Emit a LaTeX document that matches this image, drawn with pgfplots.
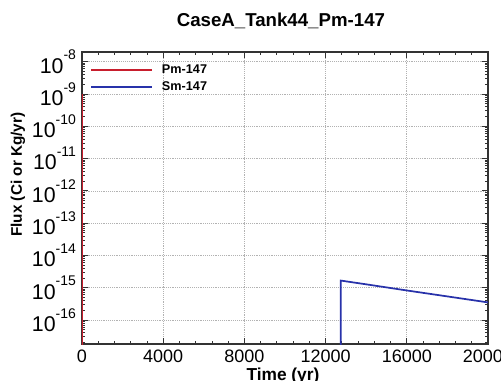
\documentclass[border=0pt]{standalone}
\usepackage{pgfplots}
\pgfplotsset{compat=1.18}
\usepackage{fontspec}
\setmainfont{Liberation Sans}
\definecolor{pmred}{RGB}{200,30,45}
\definecolor{smblue}{RGB}{40,50,170}
\newcommand{\ytl}[1]{10\raisebox{0.62em}{\fontsize{10.5}{11}\selectfont -#1}}
\begin{document}
\begin{tikzpicture}
\useasboundingbox (-61.5pt,-27.75pt) rectangle (314.25pt,258pt);
\begin{axis}[
  scale only axis,
  width=304.5pt, height=219pt,
  ymode=log,
  xmin=0, xmax=20000,
  ymin=1.8e-17, ymax=2e-8,
  scaled x ticks=false,
  xtick={0,4000,8000,12000,16000,20000},
  xticklabels={0,4000,8000,12000,16000,20000},
  minor x tick num=4,
  ytick={1e-16,1e-15,1e-14,1e-13,1e-12,1e-11,1e-10,1e-9,1e-8},
  yticklabels={\ytl{16},\ytl{15},\ytl{14},\ytl{13},\ytl{12},\ytl{11},\ytl{10},\ytl{9},\ytl{8}},
  minor ytick={2e-17,3e-17,4e-17,5e-17,6e-17,7e-17,8e-17,9e-17,
    2e-16,3e-16,4e-16,5e-16,6e-16,7e-16,8e-16,9e-16,
    2e-15,3e-15,4e-15,5e-15,6e-15,7e-15,8e-15,9e-15,
    2e-14,3e-14,4e-14,5e-14,6e-14,7e-14,8e-14,9e-14,
    2e-13,3e-13,4e-13,5e-13,6e-13,7e-13,8e-13,9e-13,
    2e-12,3e-12,4e-12,5e-12,6e-12,7e-12,8e-12,9e-12,
    2e-11,3e-11,4e-11,5e-11,6e-11,7e-11,8e-11,9e-11,
    2e-10,3e-10,4e-10,5e-10,6e-10,7e-10,8e-10,9e-10,
    2e-9,3e-9,4e-9,5e-9,6e-9,7e-9,8e-9,9e-9,2e-8},
  tick align=inside,
  major tick length=4.5pt,
  minor tick length=2.25pt,
  axis line style={line width=0.9pt, black!80},
  every tick/.style={black!80, line width=0.6pt},
  grid=major,
  major grid style={densely dotted, black!30, line width=0.5pt},
  minor grid style={draw=none},
  yticklabel style={font=\fontsize{16}{16}\selectfont, xshift=-1pt},
  xticklabel style={font=\fontsize{13.5}{14}\selectfont, yshift=-1pt},
  title={CaseA\_Tank44\_Pm-147},
  title style={at={(0.49,1)}, anchor=base, yshift=13.5pt, font=\bfseries\fontsize{14}{14}\selectfont},
  xlabel={Time (yr)},
  xlabel style={at={(0.495,0)}, anchor=base, yshift=-27.5pt, font=\bfseries\fontsize{13}{13}\selectfont},
  ylabel={Flux (Ci or Kg/yr)},
  ylabel style={at={(-0.158,0.58)}, anchor=center, font=\bfseries\fontsize{11.5}{12}\selectfont},
  legend style={at={(4/406,1-8/292)}, anchor=north west, draw=none, fill=none,
    font=\bfseries\fontsize{9.5}{10}\selectfont, row sep=1.5pt,
    nodes={inner sep=1.5pt}},
  legend cell align=left,
  legend image code/.code={\draw[line width=1.3pt,#1] (0pt,0pt) -- (45.75pt,0pt); \path (51pt,0pt);},
]
\addplot[color=pmred, line width=1.3pt] coordinates {(0,1e-9) (0,1e-20)};
\addlegendentry{Pm-147}
\addplot[color=smblue, line width=1.3pt] coordinates {
  (12750,1e-20) (12750,1.66e-15) (14000,1.27e-15) (16000,8.2e-16) (18000,5.36e-16) (20000,3.5e-16)};
\addlegendentry{Sm-147}
\end{axis}
\end{tikzpicture}
\end{document}
